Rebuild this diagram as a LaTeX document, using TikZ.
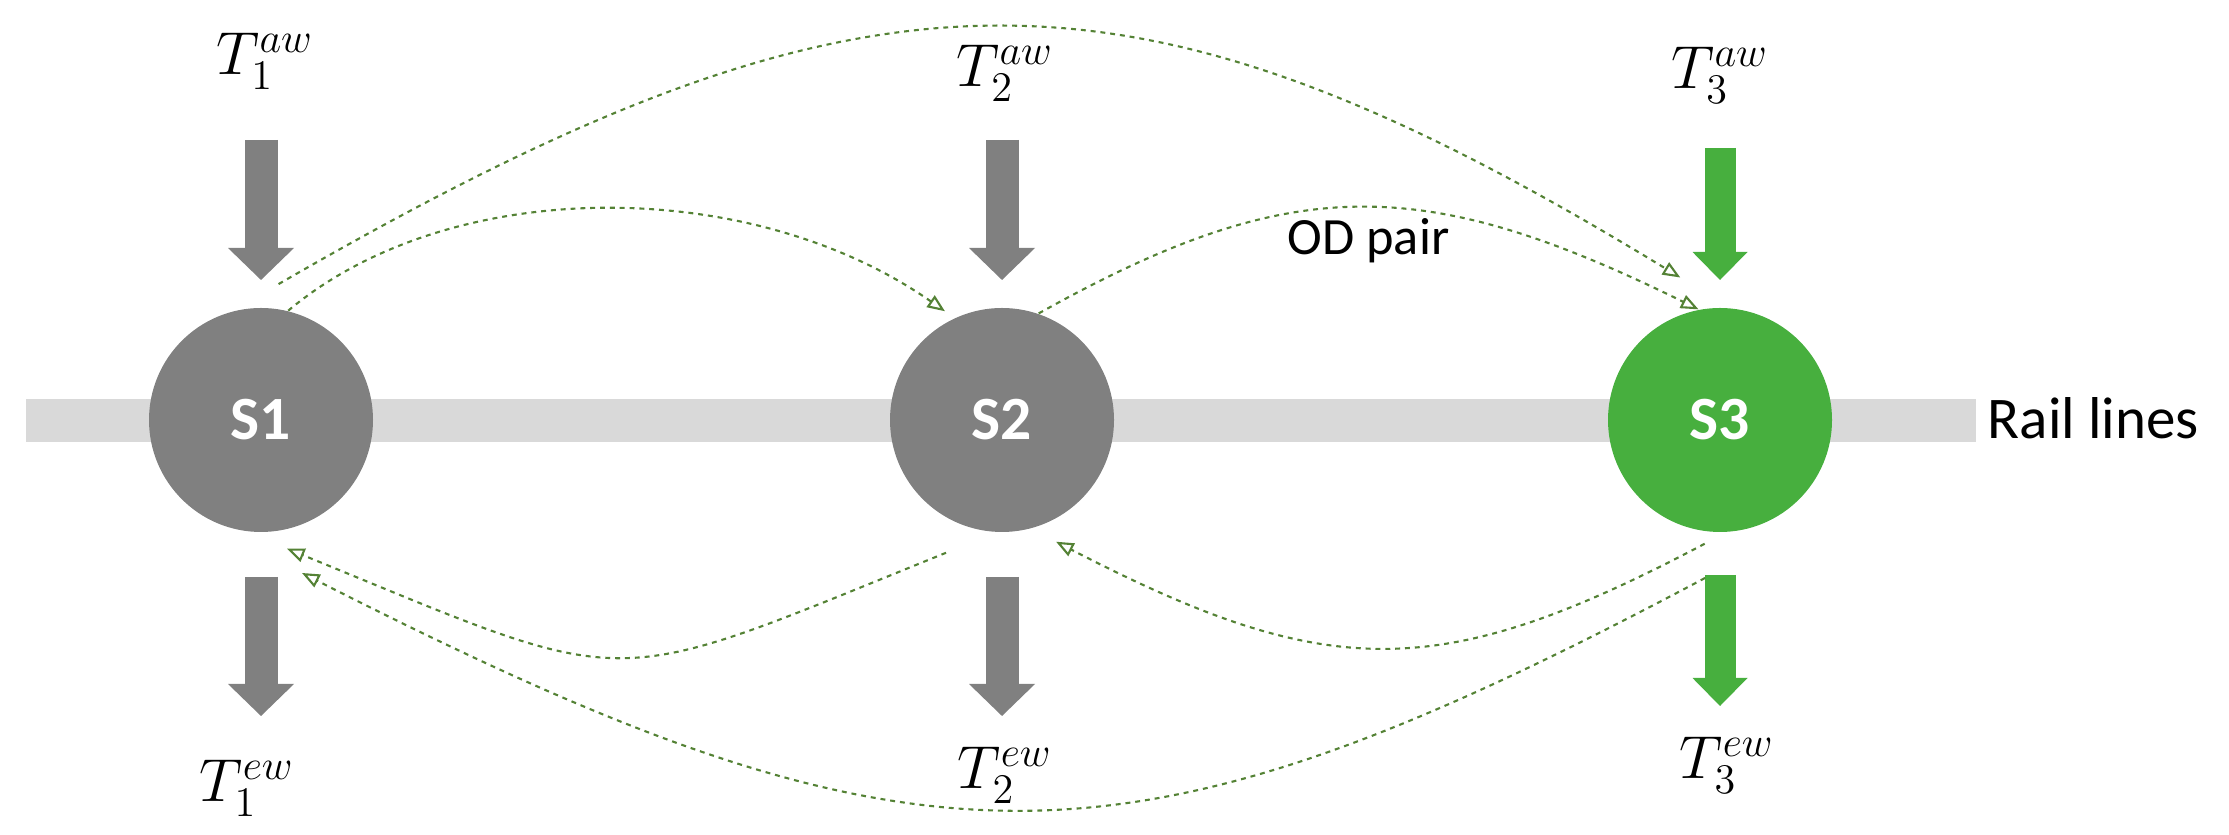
\documentclass[tikz,border=0pt]{standalone}
\usepackage{fontspec}
\usepackage{amsmath}
\usepackage{tikz}
\usetikzlibrary{arrows.meta}
\newfontfamily\calibri{Carlito}
\definecolor{stationgray}{RGB}{128,128,128}
\definecolor{stationgreen}{RGB}{71,175,62}
\definecolor{railgray}{RGB}{217,217,217}
\definecolor{odgreen}{RGB}{84,130,53}

\begin{document}
\begin{tikzpicture}[
	station/.style={circle,minimum size=2.24cm,inner sep=0pt,text=white,font=\calibri\bfseries\fontsize{17.5}{20}\selectfont},
	grayarrow/.style={stationgray,line width=0.33cm,-{Triangle[length=0.32cm,width=0.66cm,line width=0pt]}},
	greenarrow/.style={stationgreen,line width=0.31cm,-{Triangle[length=0.28cm,width=0.55cm,line width=0pt]}},
	odflow/.style={odgreen,line width=0.6pt,dash pattern=on 1.4pt off 1.4pt,-{Triangle[open,length=5pt,width=4pt]}},
	tlabel/.style={font=\fontsize{18.5}{22}\selectfont}
	]
		\useasboundingbox (0,0) rectangle (22.29,8.35);
		\fill[railgray] (0.26,3.93) rectangle (19.76,4.36); % linea
		\node[anchor=base west,inner sep=0pt,font=\calibri\fontsize{16.8}{20}\selectfont] (rail) at (19.87,3.96) {Rail lines};
		\node[station,fill=stationgray] (s1) at (2.61,4.15) {S1};
		\node[station,fill=stationgray] (s2) at (10.02,4.15) {S2};
		\node[station,fill=stationgreen] (s3) at (17.20,4.15) {S3};
		\foreach \s in {s1,s2}
		{
		\draw[grayarrow] ([yshift=2.8cm]\s.center) -- ([yshift=1.4cm]\s.center);
		\draw[grayarrow] ([yshift=-1.57cm]\s.center) -- ([yshift=-2.96cm]\s.center);
		}
		\draw[greenarrow] ([yshift=2.72cm]s3.center) -- ([yshift=1.4cm]s3.center);
		\draw[greenarrow] ([yshift=-1.55cm]s3.center) -- ([yshift=-2.86cm]s3.center);
		\node[tlabel] (a1) at (2.65,7.74) {$T_1^{aw}$};
		\node[tlabel] (a2) at (10.05,7.62) {$T_2^{aw}$};
		\node[tlabel] (a3) at (17.20,7.60) {$T_3^{aw}$};
		\node[tlabel] (e1) at (2.47,0.47) {$T_1^{ew}$};
		\node[tlabel] (e2) at (10.05,0.60) {$T_2^{ew}$};
		\node[tlabel] (e3) at (17.27,0.70) {$T_3^{ew}$};
		% pares OD
		\coordinate (f1) at ([shift={(-0.15,-1.58)}]s3.center);
		\coordinate (f2) at ([shift={(0.41,-1.53)}]s1.center);
		\draw[odflow,shorten >=0.115cm] (s1.76) .. controls (4.5,6.6) and (7.5,6.6) .. (s2.115);
		\draw[odflow,shorten <=0.54cm,shorten >=0.58cm] (s1.105) .. controls (8.7,8.93) and (11.3,8.93) .. (s3.85);
		\draw[odflow] (s2.71) .. controls (12.9,6.62) and (14.22,6.62) .. (s3.101);
		\draw[odflow,shorten <=0.54cm,shorten >=0.45cm] (s2.267) .. controls (5.99,1.42) and (6.40,1.42) .. (s1.262);
		\draw[odflow,shorten <=0.24cm,shorten >=0.28cm] (s3.273) .. controls (14.41,1.52) and (13.29,1.52) .. (s2.285);
		\draw[odflow] (f1) .. controls (11.22,-0.53) and (9.21,-0.53) .. (f2);
		\node[anchor=base west,inner sep=0pt,font=\calibri\fontsize{14.9}{18}\selectfont] (od) at (12.87,5.80) {OD pair};
\end{tikzpicture}
\end{document}
